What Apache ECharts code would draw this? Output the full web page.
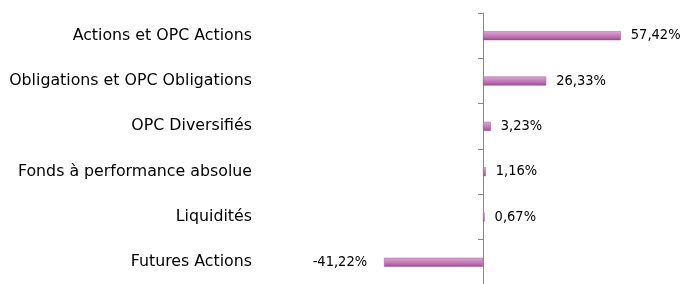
<!DOCTYPE html>
<html>
<head>
<meta charset="utf-8">
<script src="https://cdn.jsdelivr.net/npm/echarts@6/dist/echarts.min.js"></script>
<style>
  html, body { margin: 0; padding: 0; background: #fff; }
  #main { width: 696px; height: 284px; }
</style>
</head>
<body>
<div id="main"></div>
<script>
// données
var categories = ['Actions et OPC Actions', 'Obligations et OPC Obligations', 'OPC Diversifiés',
  'Fonds à performance absolue', 'Liquidités', 'Futures Actions'];
var values = [57.42, 26.33, 3.23, 1.16, 0.67, -41.22];

var chart = echarts.init(document.getElementById('main'));

var barColor = new echarts.graphic.LinearGradient(0, 0, 0, 1, [
  { offset: 0, color: '#dcaad3' },
  { offset: 0.45, color: '#c97fbd' },
  { offset: 0.75, color: '#b466a8' },
  { offset: 1, color: '#8e4a84' }
]);

function fmt(v) {
  return v.toFixed(2).replace('.', ',') + '%';
}

var barData = values.map(function (v) {
  if (v < 0) return { value: v, label: { position: 'left', distance: 17 } };
  return v;
});

chart.setOption({
  animation: false,
  textStyle: { fontFamily: 'DejaVu Sans' },
  grid: { left: 267, right: 21, top: 13, bottom: -1, containLabel: false, outerBoundsMode: 'none' },
  xAxis: {
    type: 'value',
    min: -90,
    max: 80,
    show: false
  },
  yAxis: {
    type: 'category',
    data: categories,
    inverse: true,
    axisLine: { onZero: true, lineStyle: { color: '#888', width: 1 } },
    axisTick: { show: true, length: 5, lineStyle: { color: '#888' } },
    axisLabel: { color: '#000', fontSize: 15.8, margin: 15 }
  },
  series: [{
    type: 'bar',
    data: barData,
    barWidth: 9,
    itemStyle: { color: barColor, borderColor: '#9a5a90', borderWidth: 0.5 },
    label: {
      show: true,
      position: 'right',
      distance: 10,
      color: '#000',
      fontSize: 14.5,
      fontFamily: 'DejaVu Sans Condensed',
      formatter: function (p) { return fmt(p.value); }
    }
  }]
});
</script>
</body>
</html>
